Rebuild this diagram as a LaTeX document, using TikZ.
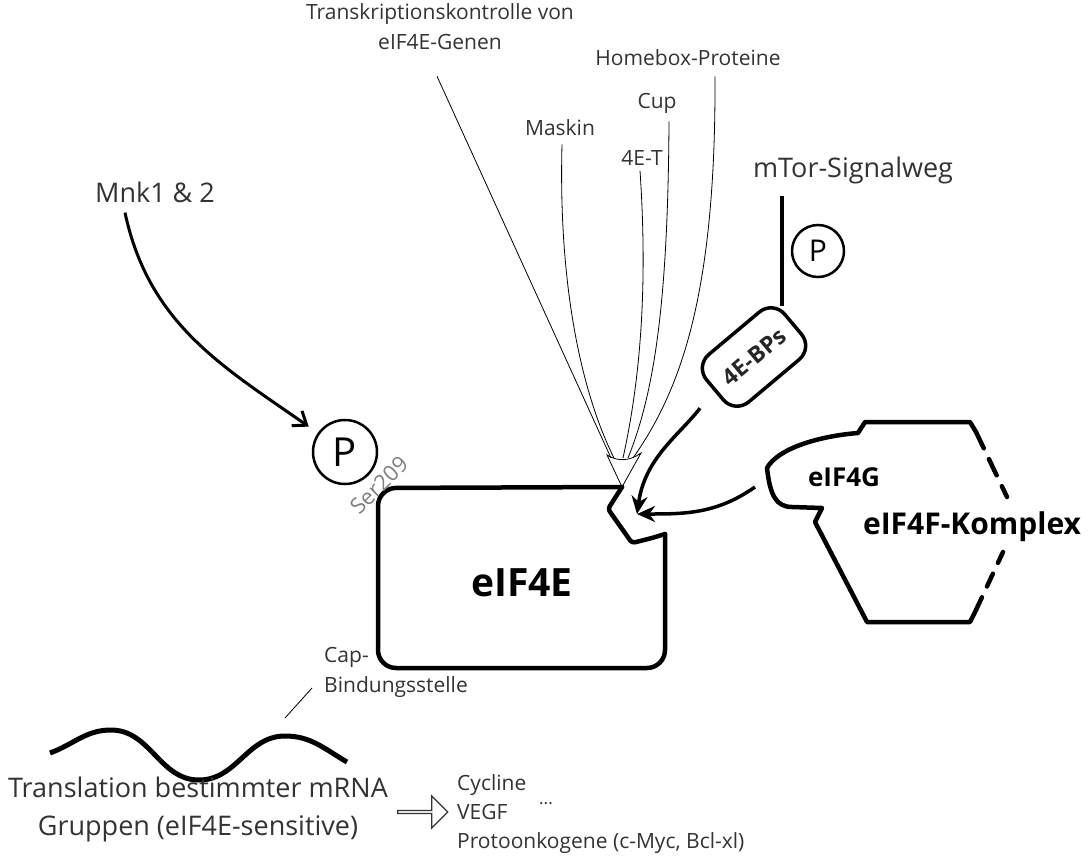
\documentclass[tikz,border=0pt]{standalone}
\usepackage{fontspec}
\setmainfont{Open Sans}
\usetikzlibrary{arrows.meta,shapes.arrows}

\begin{document}
\begin{tikzpicture}[x=1pt,y=-1pt]

    \tikzstyle{label}=[font=\fontsize{21}{30}\selectfont, align=center, inner sep=0pt, text=black!80];
    \tikzstyle{biglabel}=[font=\fontsize{27}{38}\selectfont, align=center, inner sep=0pt, text=black!80];
    \tikzstyle{phos}=[circle, draw=black, line width=2.5pt, minimum size=64pt, inner sep=0pt, font=\fontsize{40}{40}\selectfont];
    \tikzstyle{binder}=[line width=0.8pt];
    \tikzstyle{push}=[line width=3.5pt, -{Stealth[length=18pt, width=16pt]}];
    \tikzstyle{outline}=[line width=4.5pt, line cap=round, line join=round];

    \useasboundingbox (0,0) rectangle (1089,859);

    % regulators on top
    \node[label] (trans) at (440,27) {Transkriptionskontrolle von\\eIF4E-Genen};
    \node[label] (homebox) at (688,58) {Homebox-Proteine};
    \node[label] (cup) at (657,103) {Cup};
    \node[label] (maskin) at (560,128) {Maskin};
    \node[label] (foret) at (642,158) {4E-T};
    \node[biglabel] (mtor) at (853,170) {mTor-Signalweg};
    \node[biglabel] (mnk) at (155,192) {Mnk1 \& 2};

    \coordinate (conv) at (622,458);
    \coordinate (tip) at (622,487);

    \draw[binder] ([xshift=-3pt, yshift=-26pt]trans.south) -- ([xshift=-11pt]conv);
    \draw[binder] ([xshift=2pt, yshift=-8pt]maskin.south) .. controls +(-4,152) and +(-29,-58) .. ([xshift=-8pt]conv);
    \draw[binder] ([xshift=-2pt, yshift=-5pt]foret.south) .. controls +(8,118) and +(17,-77) .. ([xshift=1pt]conv);
    \draw[binder] ([xshift=12pt, yshift=-8pt]cup.south) .. controls +(-1,178) and +(27,-67) .. ([xshift=6pt]conv);
    \draw[binder] ([xshift=27pt, yshift=-10pt]homebox.south) .. controls +(1,220) and +(47,-67) .. ([xshift=11pt]conv);
    \draw[binder] (607,455) .. controls (618,462) and (630,461) .. (641,453) -- (tip) -- cycle;

    % eIF4E with the cap pocket
    \node[font=\bfseries\fontsize{39}{39}\selectfont] (eif4e) at (522,583) {eIF4E};
    \draw[outline, rounded corners=18pt] (tip) -- (378,488) -- (378,668) -- (665,668) -- (665,534);
    \draw[outline, rounded corners=3pt] (665,534) -- (652,538) -- (632,543) -- (608,509) -- (tip);
    \coordinate (pocket) at (637,514);

    \node[phos] (p1) at (345,452) {P};
    \node[font=\fontsize{22}{22}\selectfont, text=gray, rotate=45] (ser) at (379,485) {Ser209};
    \draw[line width=3pt, -{Straight Barb[length=12pt, width=18pt]}, shorten >=11pt]
        ([xshift=-30pt, yshift=-10pt]mnk.south) to[out=-78, in=145] (p1);

    % mTor branch
    \node[phos, minimum size=52pt, font=\fontsize{30}{30}\selectfont] (p2) at (818,251) {P};
    \node[draw, line width=3.5pt, rounded corners=18pt, rotate=40, minimum width=102pt, minimum height=62pt,
          inner sep=2pt, font=\bfseries\fontsize{23}{23}\selectfont, text=black!85] (bps) at (754,357) {4E-BPs};
    \coordinate (mtortop) at (782,196);
    \coordinate (mtorfoot) at (782,306);
    \draw[line width=4pt] (mtortop) -- (mtorfoot);
    \draw[push, shorten <=22pt] (bps.west) to[out=-128, in=82] (pocket);

    % eIF4F complex
    \node[font=\bfseries\fontsize{26}{26}\selectfont] (g4) at (844,477) {eIF4G};
    \node[font=\bfseries\fontsize{30}{30}\selectfont] (komplex) at (972,527) {eIF4F-Komplex};
    \draw[outline] (976,432) -- (970,422) -- (865,422) -- (858,433)
        .. controls (820,436) and (778,448) .. (767,468)
        .. controls (770,495) and (776,507) .. (792,507) -- (822,508) -- (815,522) -- (867,622) -- (970,622) -- (976,610);
    \draw[outline, dash pattern=on 18pt off 12pt] (976,432) -- (1007,497);
    \draw[outline, dash pattern=on 14pt off 12pt] (976,610) -- (1003,552);
    \coordinate (gtail) at (755,487);
    \draw[push] (gtail) to[out=-145, in=0] (pocket);

    % mRNA
    \draw[line width=5pt] (50,753) to[out=20, in=180] (111,730) to[out=0, in=180] (199,780)
        to[out=0, in=180] (285,736) to[out=0, in=150] (347,762);
    \node[label, align=left, anchor=west] (cap) at (324,672) {Cap-\\Bindungsstelle};
    \coordinate (capfoot) at (285,718);
    \draw[binder] (capfoot) -- ([xshift=-12pt, yshift=-16pt]cap.west);

    \node[biglabel] (transl) at (198,809) {Translation bestimmter mRNA\\Gruppen (eIF4E-sensitive)};
    \node[single arrow, draw=black!80, line width=1.3pt, minimum width=32pt, minimum height=50pt,
          single arrow head extend=6pt, inner sep=0pt] (barrow) at (422,812) {};
    \node[label, align=left, anchor=west, font=\fontsize{21}{29}\selectfont] (prod) at (457,814) {Cycline\\VEGF\\Protoonkogene (c-Myc, Bcl-xl)};
    \node[font=\fontsize{17}{17}\selectfont, text=black!80] (dots) at (546,804) {...};

\end{tikzpicture}
\end{document}
